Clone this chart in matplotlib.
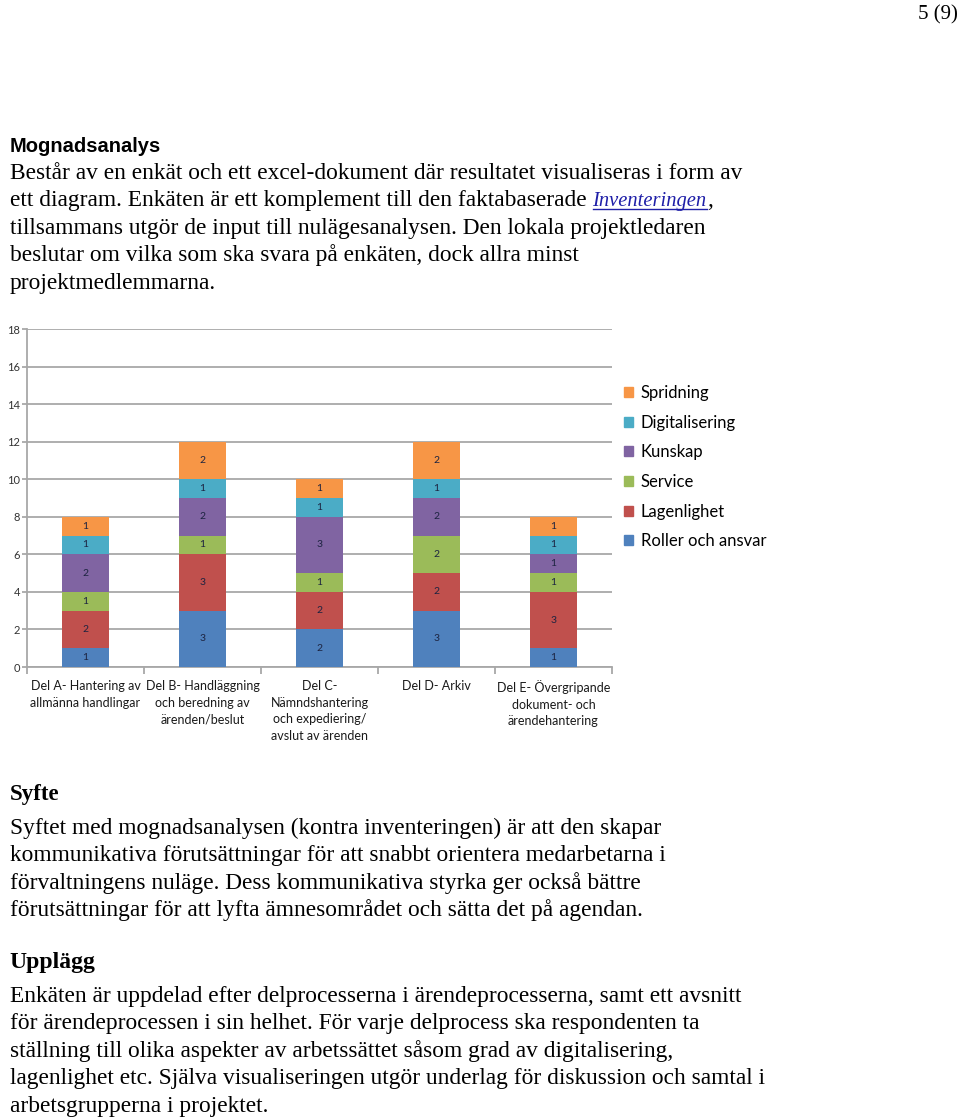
import numpy as np
import matplotlib.pyplot as plt
from matplotlib.patches import Patch

# chart data (stack order bottom -> top)
categories = ["Del A- Hantering av\nallmänna handlingar",
              "Del B- Handläggning\noch beredning av\närenden/beslut",
              "Del C-\nNämndshantering\noch expediering/\navslut av ärenden",
              "Del D- Arkiv",
              "Del E- Övergripande\ndokument- och\närendehantering"]
series = ["Roller och ansvar", "Lagenlighet", "Service", "Kunskap",
          "Digitalisering", "Spridning"]
roller = [1, 3, 2, 3, 1]
lagenlighet = [2, 3, 2, 2, 3]
service = [1, 1, 1, 2, 1]
kunskap = [2, 2, 3, 2, 1]
digitalisering = [1, 1, 1, 1, 1]
spridning = [1, 2, 1, 2, 1]
values = [roller, lagenlighet, service, kunskap, digitalisering, spridning]
colors = ["#4F81BD", "#C0504D", "#9BBB59", "#8064A2", "#4BACC6", "#F79646"]
yticks = list(range(0, 19, 2))

W, H = 960, 1119
fig = plt.figure(figsize=(W / 100, H / 100), dpi=100)
fig.patch.set_facecolor("white")

def fy(py):
    return 1 - py / H

serif = "Liberation Serif"
sans = "Lato"

# page number
fig.text(958 / W, fy(19), "5 (9)", ha="right", va="baseline",
         family=serif, fontsize=15, color="black")

# heading + paragraph 1
fig.text(10 / W, fy(152), "Mognadsanalys", ha="left", va="baseline",
         family="Liberation Sans", fontweight="bold", fontsize=14.5)

body_fs = 16.8
para1 = ["Består av en enkät och ett excel-dokument där resultatet visualiseras i form av",
         None,
         "tillsammans utgör de input till nulägesanalysen. Den lokala projektledaren",
         "beslutar om vilka som ska svara på enkäten, dock allra minst",
         "projektmedlemmarna."]
base1 = [179, 206, 234, 261, 289]
for line, b in zip(para1, base1):
    if line:
        fig.text(10 / W, fy(b), line, ha="left", va="baseline",
                 family=serif, fontsize=body_fs)

# line with the link
t1 = fig.text(10 / W, fy(206), "ett diagram. Enkäten är ett komplement till den faktabaserade ",
              ha="left", va="baseline", family=serif, fontsize=body_fs)
fig.canvas.draw()
r = fig.canvas.get_renderer()
x1 = t1.get_window_extent(r).x1
t2 = fig.text(x1 / W, fy(206), "Inventeringen", ha="left", va="baseline",
              family=serif, fontsize=14.8, style="italic", color="#1F1FA8")
fig.canvas.draw()
bb = t2.get_window_extent(r)
fig.add_artist(plt.Line2D([bb.x0 / W, bb.x1 / W], [fy(208.5), fy(208.5)],
                          color="#1F1FA8", lw=1))
fig.text(bb.x1 / W, fy(206), ",", ha="left", va="baseline",
         family=serif, fontsize=body_fs)

# Syfte
fig.text(10 / W, fy(800), "Syfte", ha="left", va="baseline",
         family=serif, fontweight="bold", fontsize=16.5)
para2 = ["Syftet med mognadsanalysen (kontra inventeringen) är att den skapar",
         "kommunikativa förutsättningar för att snabbt orientera medarbetarna i",
         "förvaltningens nuläge. Dess kommunikativa styrka ger också bättre",
         "förutsättningar för att lyfta ämnesområdet och sätta det på agendan."]
for i, line in enumerate(para2):
    fig.text(10 / W, fy(834 + i * 27.4), line, ha="left", va="baseline",
             family=serif, fontsize=body_fs)

# Upplägg
fig.text(9 / W, fy(968), "Upplägg", ha="left", va="baseline",
         family=serif, fontweight="bold", fontsize=17)
para3 = ["Enkäten är uppdelad efter delprocesserna i ärendeprocesserna, samt ett avsnitt",
         "för ärendeprocessen i sin helhet. För varje delprocess ska respondenten ta",
         "ställning till olika aspekter av arbetssättet såsom grad av digitalisering,",
         "lagenlighet etc. Själva visualiseringen utgör underlag för diskussion och samtal i",
         "arbetsgrupperna i projektet."]
for i, line in enumerate(para3):
    fig.text(10 / W, fy(1002 + i * 27.4), line, ha="left", va="baseline",
             family=serif, fontsize=body_fs)

# chart
ax = fig.add_axes([27 / W, fy(667), (612 - 27) / W, (667 - 329) / H])
x = np.arange(len(categories))
bottom = np.zeros(len(categories))
for name, vals, c in zip(series, values, colors):
    ax.bar(x, vals, bottom=bottom, width=0.4, color=c, zorder=3, label=name)
    for xi, v, b in zip(x, vals, bottom):
        ax.text(xi, b + v / 2, str(v), ha="center", va="center",
                fontsize=7.5, color="#1c2340", family=sans, zorder=4)
    bottom += np.array(vals)

ax.set_xlim(-0.5, len(categories) - 0.5)
ax.set_ylim(0, 18)
ax.set_yticks(yticks)
ax.yaxis.grid(True, color="#A8A8A8", lw=1.3, zorder=0)
ax.tick_params(axis="y", length=3.6, color="#A8A8A8", width=1.3,
               labelsize=8, labelcolor="#333333", pad=1.5)
for lab in ax.get_yticklabels():
    lab.set_family(sans)
ax.set_xticks(x)
ax.set_xticklabels(categories, family=sans, fontsize=9, linespacing=1.45,
                   color="#1a1a1a", va="top")
ax.set_xticks(np.arange(-0.5, len(categories)), minor=True)
ax.tick_params(axis="x", which="major", length=0, pad=9.5)
ax.tick_params(axis="x", which="minor", length=5, color="#A8A8A8", width=1.3)
for s in ["top", "right"]:
    ax.spines[s].set_visible(False)
for s in ["left", "bottom"]:
    ax.spines[s].set_color("#A8A8A8")
    ax.spines[s].set_linewidth(1.3)

handles = [Patch(color=c, label=n) for n, c in zip(series, colors)][::-1]
fig.legend(handles=handles, loc="upper left", bbox_to_anchor=(624 / W, fy(385)),
           frameon=False, prop={"family": sans, "size": 12},
           handlelength=0.55, handleheight=0.55, handletextpad=0.45,
           labelspacing=0.82, borderaxespad=0, borderpad=0)

fig.savefig("out.png", dpi=100)
